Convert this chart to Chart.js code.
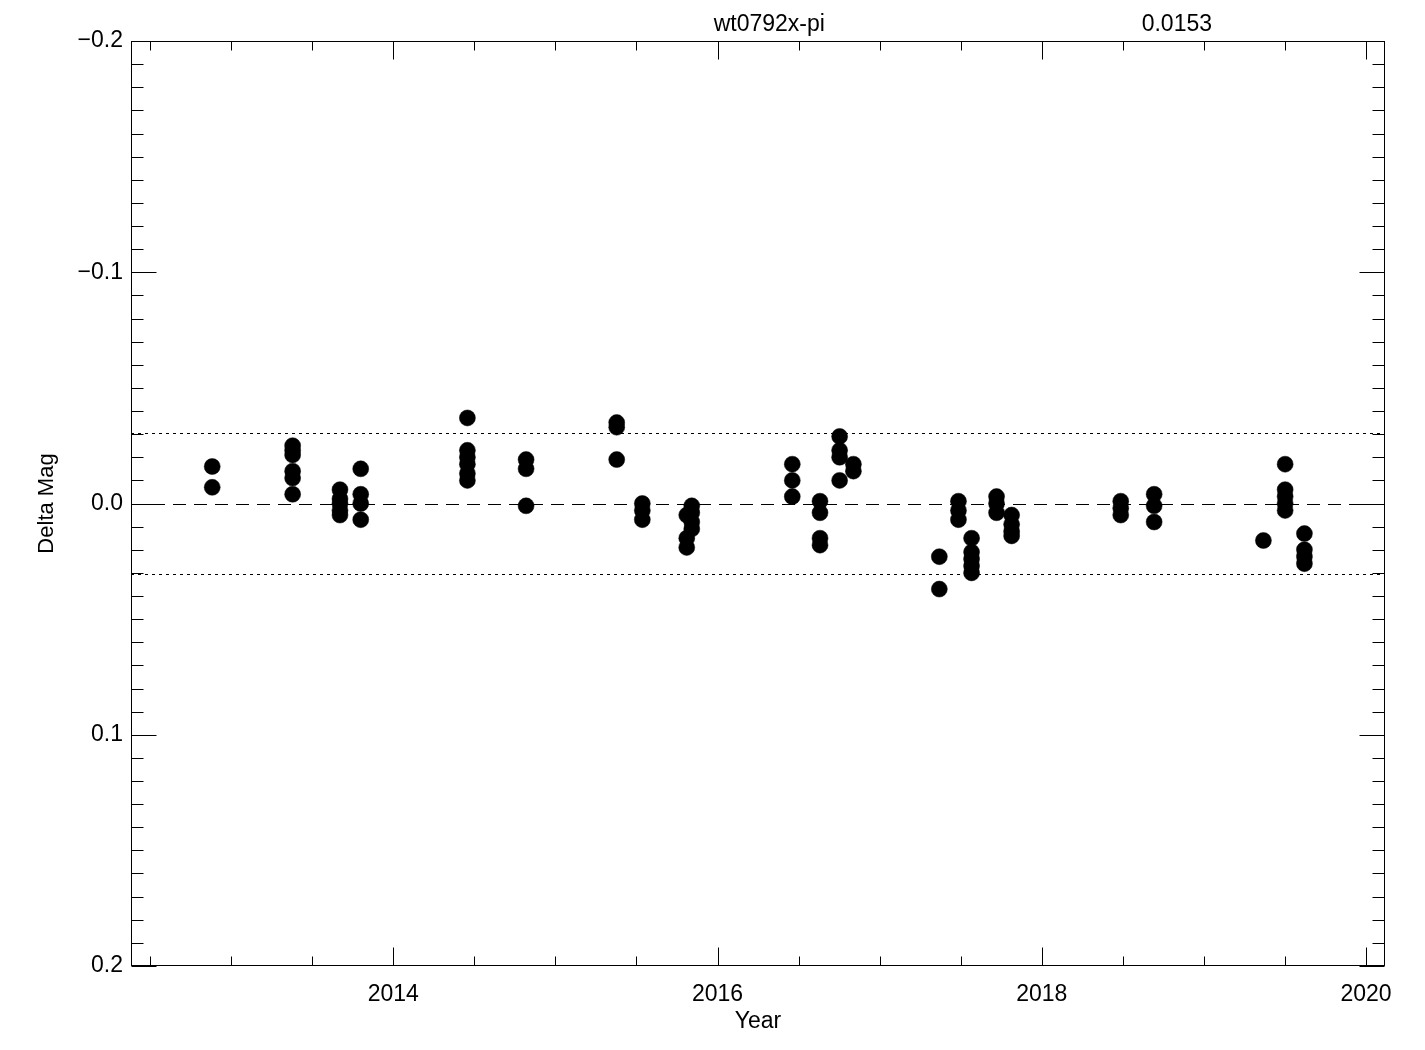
<!DOCTYPE html>
<html>
<head>
<meta charset="utf-8">
<script src="https://cdn.jsdelivr.net/npm/chart.js@4.4.0/dist/chart.umd.min.js"></script>
<style>
  html, body { margin: 0; padding: 0; background: #fff; }
  canvas { display: block; }
</style>
</head>
<body>
<canvas id="myChart" width="1425" height="1050"></canvas>
<script>
// one entry per visit: decimal year and the delta mags measured in it
var visitYear = [2012.883, 2013.379, 2013.671, 2013.799, 2014.457, 2014.819,
  2015.378, 2015.536, 2015.810, 2015.841, 2016.461, 2016.632, 2016.753, 2016.838,
  2017.368, 2017.486, 2017.567, 2017.721, 2017.814, 2018.487, 2018.693,
  2019.367, 2019.501, 2019.620];
var visitMag = [
  [-0.016, -0.007],
  [-0.025, -0.023, -0.021, -0.014, -0.011, -0.004],
  [-0.006, -0.002, 0.000, 0.003, 0.005],
  [-0.015, -0.004, 0.000, 0.007],
  [-0.037, -0.023, -0.020, -0.017, -0.013, -0.010],
  [-0.019, -0.015, 0.001],
  [-0.035, -0.033, -0.019],
  [0.000, 0.003, 0.007],
  [0.005, 0.015, 0.019],
  [0.001, 0.004, 0.008, 0.011],
  [-0.017, -0.010, -0.003],
  [-0.001, 0.004, 0.015, 0.018],
  [-0.029, -0.023, -0.020, -0.010],
  [-0.017, -0.014],
  [0.023, 0.037],
  [-0.001, 0.003, 0.007],
  [0.015, 0.021, 0.024, 0.027, 0.030],
  [-0.003, 0.000, 0.004],
  [0.005, 0.009, 0.012, 0.014],
  [-0.001, 0.002, 0.005],
  [-0.004, 0.001, 0.008],
  [0.016],
  [-0.017, -0.006, -0.003, 0.000, 0.003],
  [0.013, 0.020, 0.023, 0.026]
];
var starName = 'wt0792x-pi';
var sigma = 0.0153;
var sigmaLines = [-2 * sigma, 2 * sigma];
var xTickYears = [2014, 2016, 2018, 2020];
var yTickMags = [-0.2, -0.1, 0.0, 0.1, 0.2];

var points = [];
visitYear.forEach(function(yr, i) {
  visitMag[i].forEach(function(m) { points.push({x: yr, y: m}); });
});

var FONT = 'Liberation Sans, Arial, sans-serif';

function line(ctx, x1, y1, x2, y2) {
  ctx.beginPath(); ctx.moveTo(x1, y1); ctx.lineTo(x2, y2); ctx.stroke();
}

// IDL style box: inward ticks on all four sides, ref lines, header text
var frame = {
  id: 'frame',
  beforeDatasetsDraw: function(chart) {
    var ctx = chart.ctx, a = chart.chartArea, ys = chart.scales.y;
    ctx.save();
    ctx.strokeStyle = '#000';
    ctx.lineWidth = 1;
    var y0 = Math.round(ys.getPixelForValue(0)) + 0.5;
    ctx.setLineDash([13, 8]);
    line(ctx, a.left, y0, a.right, y0);
    ctx.setLineDash([3, 4]);
    sigmaLines.forEach(function(v) {
      var yy = Math.round(ys.getPixelForValue(v)) + 0.5;
      line(ctx, a.left, yy, a.right, yy);
    });
    ctx.restore();
  },
  afterDraw: function(chart) {
    var ctx = chart.ctx, a = chart.chartArea;
    var xs = chart.scales.x, ys = chart.scales.y;
    ctx.save();
    ctx.strokeStyle = '#000';
    ctx.lineWidth = 1;
    var L = a.left + 0.5, R = a.right - 0.5, T = a.top + 0.5, B = a.bottom - 0.5;
    ctx.strokeRect(L, T, R - L, B - T);

    // x ticks, minor every half year
    for (var k = Math.ceil(xs.min * 2); k <= Math.floor(xs.max * 2); k++) {
      var yr = k / 2;
      var major = (k % 4 === 0);
      var len = major ? 18 : 9;
      var px = Math.round(xs.getPixelForValue(yr)) + 0.5;
      line(ctx, px, B, px, B - len);
      line(ctx, px, T, px, T + len);
    }
    // y ticks, minor every 0.01
    for (var j = -20; j <= 20; j++) {
      var v = j / 100;
      var majorY = (j % 10 === 0);
      var lenY = majorY ? 25 : 12;
      var py = Math.round(ys.getPixelForValue(v)) + 0.5;
      line(ctx, L, py, L + lenY, py);
      line(ctx, R, py, R - lenY, py);
    }

    ctx.fillStyle = '#000';
    ctx.font = '23px ' + FONT;
    ctx.textAlign = 'center';
    ctx.textBaseline = 'middle';
    ctx.fillText(starName, a.left + (a.right - a.left) * 0.509, 25);
    ctx.fillText(sigma.toFixed(4), a.left + (a.right - a.left) * 0.834, 25);
    ctx.restore();
  }
};

var ctx = document.getElementById('myChart');
var myChart = new Chart(ctx, {
  type: 'scatter',
  data: {
    datasets: [{
      label: starName,
      data: points,
      pointRadius: 8,
      pointHoverRadius: 8,
      backgroundColor: '#000',
      borderColor: '#000',
      borderWidth: 0.5
    }]
  },
  options: {
    responsive: false,
    animation: false,
    events: [],
    layout: { padding: { top: 41, right: 40, left: 0, bottom: 0 } },
    plugins: {
      legend: { display: false },
      tooltip: { enabled: false }
    },
    scales: {
      x: {
        type: 'linear',
        min: 2012.382,
        max: 2020.117,
        grid: { display: false, drawTicks: false },
        border: { display: false },
        afterBuildTicks: function(scale) {
          scale.ticks = xTickYears.map(function(v) { return {value: v}; });
        },
        afterFit: function(scale) { scale.height = 84; },
        ticks: {
          color: '#000',
          padding: 15,
          maxRotation: 0,
          font: { family: FONT, size: 23 },
          callback: function(v) { return String(v); }
        },
        title: {
          display: true,
          text: 'Year',
          color: '#000',
          font: { family: FONT, size: 23 },
          padding: { top: 0, bottom: 15 }
        }
      },
      y: {
        type: 'linear',
        reverse: true,
        min: -0.2,
        max: 0.2,
        grid: { display: false, drawTicks: false },
        border: { display: false },
        afterBuildTicks: function(scale) {
          scale.ticks = yTickMags.map(function(v) { return {value: v}; });
        },
        afterFit: function(scale) { scale.width = 131; },
        ticks: {
          color: '#000',
          padding: 8,
          font: { family: FONT, size: 23 },
          callback: function(v) { return v.toFixed(1).replace('-', '\u2212'); }
        },
        title: {
          display: true,
          text: 'Delta Mag',
          color: '#000',
          font: { family: FONT, size: 22 },
          padding: { top: 34, bottom: 0 }
        }
      }
    }
  },
  plugins: [frame]
});
</script>
</body>
</html>
